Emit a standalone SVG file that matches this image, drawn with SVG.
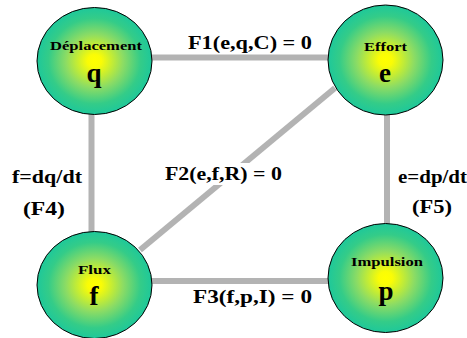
<svg xmlns="http://www.w3.org/2000/svg" width="467" height="338" viewBox="0 0 467 338">
<defs>
<radialGradient id="g" cx="0.5" cy="0.5" r="0.5">
<stop offset="0" stop-color="#ffff00"/>
<stop offset="0.12" stop-color="#fafc06"/>
<stop offset="0.5" stop-color="#8cdc64"/>
<stop offset="0.8" stop-color="#34cc88"/>
<stop offset="1" stop-color="#1ec89a"/>
</radialGradient>
<style>
.c{fill:url(#g);stroke:#000;stroke-width:1}
.ln{stroke:#b3b3b3;stroke-width:6;fill:none}
.tx{font-weight:bold;fill:#000;text-anchor:middle}
.t{font-size:13.5px}
.v{font-size:27px}
.l{font-size:19px}
</style>
</defs>
<rect width="467" height="338" fill="#fff"/>
<g id="connectors">
<line class="ln" x1="94" y1="57.5" x2="385" y2="57.5"/>
<line class="ln" x1="91.5" y1="61" x2="91.5" y2="285"/>
<line class="ln" x1="387" y1="60" x2="387" y2="278"/>
<line class="ln" x1="94" y1="281" x2="385" y2="281"/>
<line class="ln" stroke-width="5" x1="140" y1="250" x2="335" y2="88"/>
</g>
<g id="labels" class="tx" font-family="Liberation Serif, Times New Roman, serif">
<text class="l" x="250" y="49" textLength="124" lengthAdjust="spacingAndGlyphs">F1(e,q,C) = 0</text>
<text class="l" x="47" y="183" textLength="70" lengthAdjust="spacingAndGlyphs">f=dq/dt</text>
<text class="l" x="44" y="215" textLength="42" lengthAdjust="spacingAndGlyphs">(F4)</text>
<rect x="160" y="163" width="127" height="22" fill="#fff"/>
<text class="l" x="223.5" y="179.5" textLength="117" lengthAdjust="spacingAndGlyphs">F2(e,f,R) = 0</text>
<text class="l" x="432.5" y="183" textLength="69" lengthAdjust="spacingAndGlyphs">e=dp/dt</text>
<text class="l" x="432" y="213" textLength="40" lengthAdjust="spacingAndGlyphs">(F5)</text>
<text class="l" x="252.5" y="303" textLength="119" lengthAdjust="spacingAndGlyphs">F3(f,p,I) = 0</text>
</g>
<g id="deplacement" class="tx" font-family="Liberation Serif, Times New Roman, serif">
<ellipse class="c" cx="94.5" cy="61" rx="57.5" ry="53.5"/>
<text class="t" x="96" y="50" textLength="92" lengthAdjust="spacingAndGlyphs">Déplacement</text>
<text class="v" x="94" y="82">q</text>
</g>
<g id="effort" class="tx" font-family="Liberation Serif, Times New Roman, serif">
<ellipse class="c" cx="385.5" cy="60" rx="57.5" ry="55"/>
<text class="t" x="385.5" y="50.5" textLength="43" lengthAdjust="spacingAndGlyphs">Effort</text>
<text class="v" x="385" y="82">e</text>
</g>
<g id="flux" class="tx" font-family="Liberation Serif, Times New Roman, serif">
<ellipse class="c" cx="94.5" cy="285" rx="57.5" ry="53.5"/>
<text class="t" x="94.5" y="274" textLength="33" lengthAdjust="spacingAndGlyphs">Flux</text>
<text class="v" x="94" y="305">f</text>
</g>
<g id="impulsion" class="tx" font-family="Liberation Serif, Times New Roman, serif">
<ellipse class="c" cx="385.5" cy="278" rx="57.5" ry="54.5"/>
<text class="t" x="387" y="266" textLength="72" lengthAdjust="spacingAndGlyphs">Impulsion</text>
<text class="v" x="386" y="300">p</text>
</g>
</svg>
